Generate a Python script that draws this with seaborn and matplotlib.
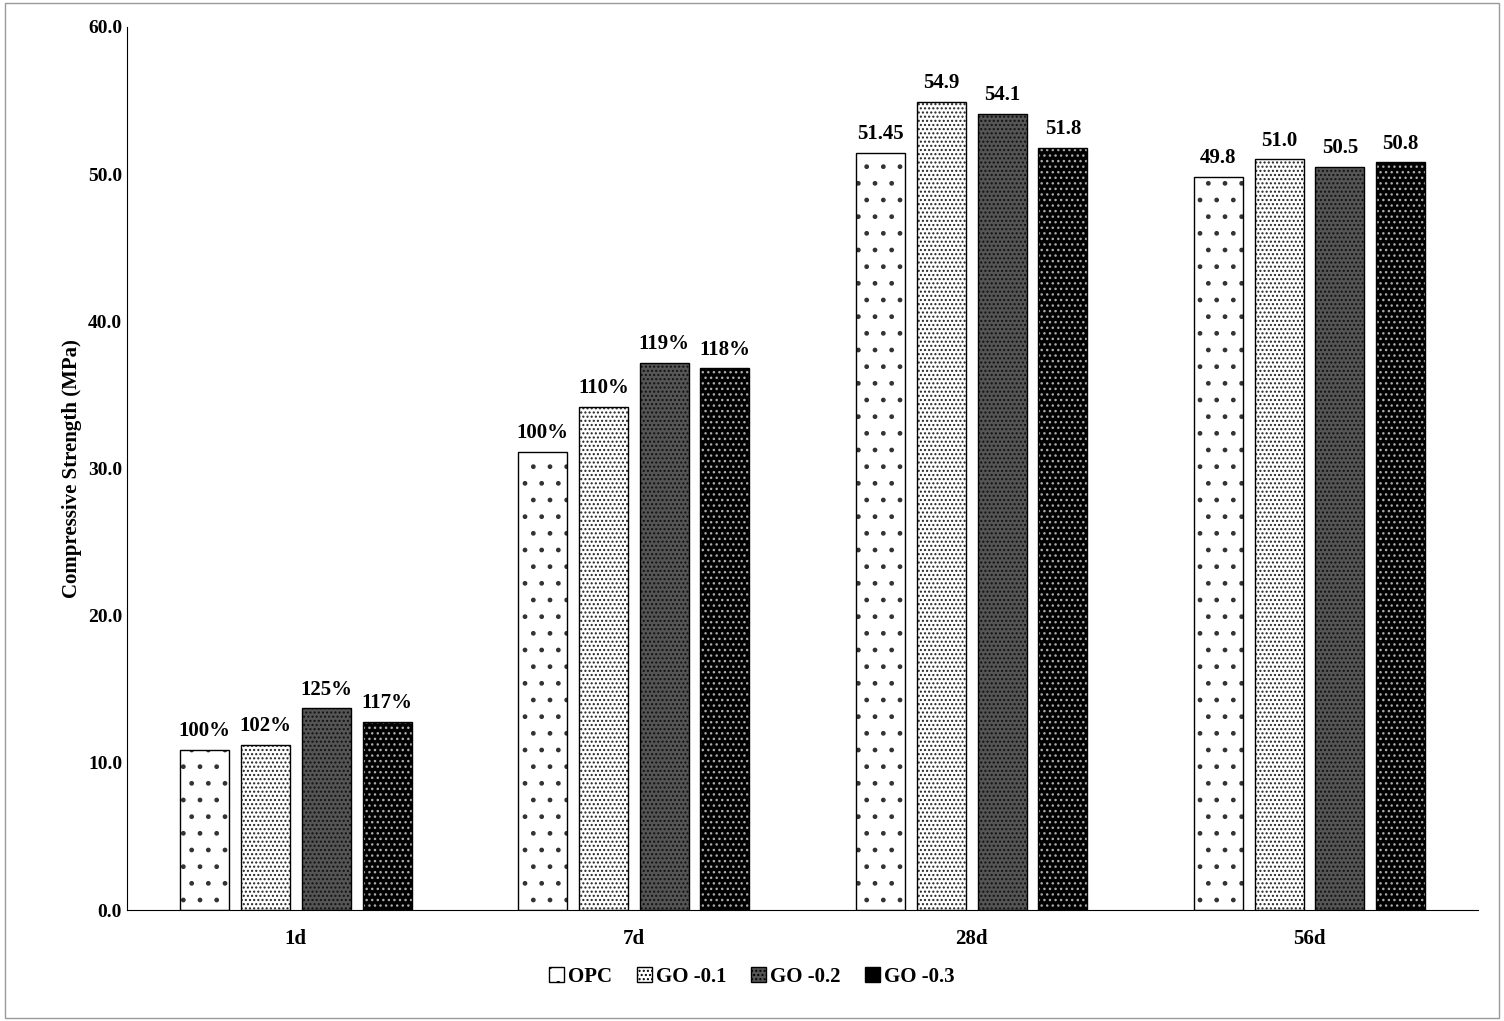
import pandas as pd
import matplotlib.pyplot as plt
import seaborn as sns
from matplotlib.patches import Patch, Rectangle

# données
ages = ["1d", "7d", "28d", "56d"]
mixes = ["OPC", "GO -0.1", "GO -0.2", "GO -0.3"]
opc = [10.9, 31.1, 51.45, 49.8]
go01 = [11.2, 34.2, 54.9, 51.0]
go02 = [13.7, 37.2, 54.1, 50.5]
go03 = [12.8, 36.8, 51.8, 50.8]
labels_pct = [["100%", "102%", "125%", "117%"], ["100%", "110%", "119%", "118%"]]
labels_val = [["51.45", "54.9", "54.1", "51.8"], ["49.8", "51.0", "50.5", "50.8"]]

df = pd.DataFrame({
    "age": ages * 4,
    "mix": [m for m in mixes for _ in ages],
    "val": opc + go01 + go02 + go03,
})

plt.rcParams["font.family"] = "Liberation Serif"
plt.rcParams["font.weight"] = "bold"

fig = plt.figure(figsize=(15.04, 10.21), dpi=100)
ax = fig.add_axes([0.0844, 0.1087, 0.8986, 0.8649])
fig.patches.append(Rectangle((0.003, 0.003), 0.994, 0.994, transform=fig.transFigure,
                             fill=False, edgecolor="#999999", lw=1))

sns.barplot(data=df, x="age", y="val", hue="mix", order=ages, hue_order=mixes,
            width=0.72, ax=ax, legend=False)

# styles : fond, couleur des points, motif
styles = {
    "OPC": ("white", "#333333", "."),
    "GO -0.1": ("white", "#222222", "...."),
    "GO -0.2": ("#555555", "#111111", "...."),
    "GO -0.3": ("black", "#aaaaaa", "..."),
}
bw = 0.145
for i, mix in enumerate(mixes):
    fc, hc, h = styles[mix]
    for j in range(len(ages)):
        p = ax.patches[i * len(ages) + j]
        cx = p.get_x() + p.get_width() / 2
        p.set_x(cx - bw / 2)
        p.set_width(bw)
        p.set_facecolor(fc)
        p.set_edgecolor(hc)
        p.set_hatch(h)
        p.set_linewidth(0)
        ax.add_patch(Rectangle((cx - bw / 2, 0), bw, p.get_height(), fill=False,
                               edgecolor="black", lw=1, zorder=3))
        if j < 2:
            t = labels_pct[j][i]
        else:
            t = labels_val[j - 2][i]
        ax.text(cx, p.get_height() + 0.6, t, ha="center", va="bottom",
                fontsize=15, fontweight="bold")

ax.set_ylim(0, 60)
ax.set_xlim(-0.5, 3.5)
ax.set_yticks(range(0, 61, 10))
ax.set_yticklabels([f"{v:.1f}" for v in range(0, 61, 10)], fontsize=14, fontweight="bold")
ax.tick_params(axis="x", labelsize=15, length=0, pad=14)
ax.tick_params(axis="y", length=0)
for lab in ax.get_xticklabels():
    lab.set_fontweight("bold")
ax.set_xlabel("")
ax.set_ylabel("Compressive Strength (MPa)", fontsize=15, fontweight="bold")
ax.spines["top"].set_visible(False)
ax.spines["right"].set_visible(False)

handles = [Patch(facecolor=styles[m][0], edgecolor="black", hatch=styles[m][2], label=m)
           for m in mixes]
fig.legend(handles=handles, loc="lower center", bbox_to_anchor=(0.5, 0.015), ncol=4,
           frameon=False, fontsize=15, handlelength=0.7, handleheight=0.7,
           handletextpad=0.2, columnspacing=1.2)

fig.savefig("out.png", dpi=100)
